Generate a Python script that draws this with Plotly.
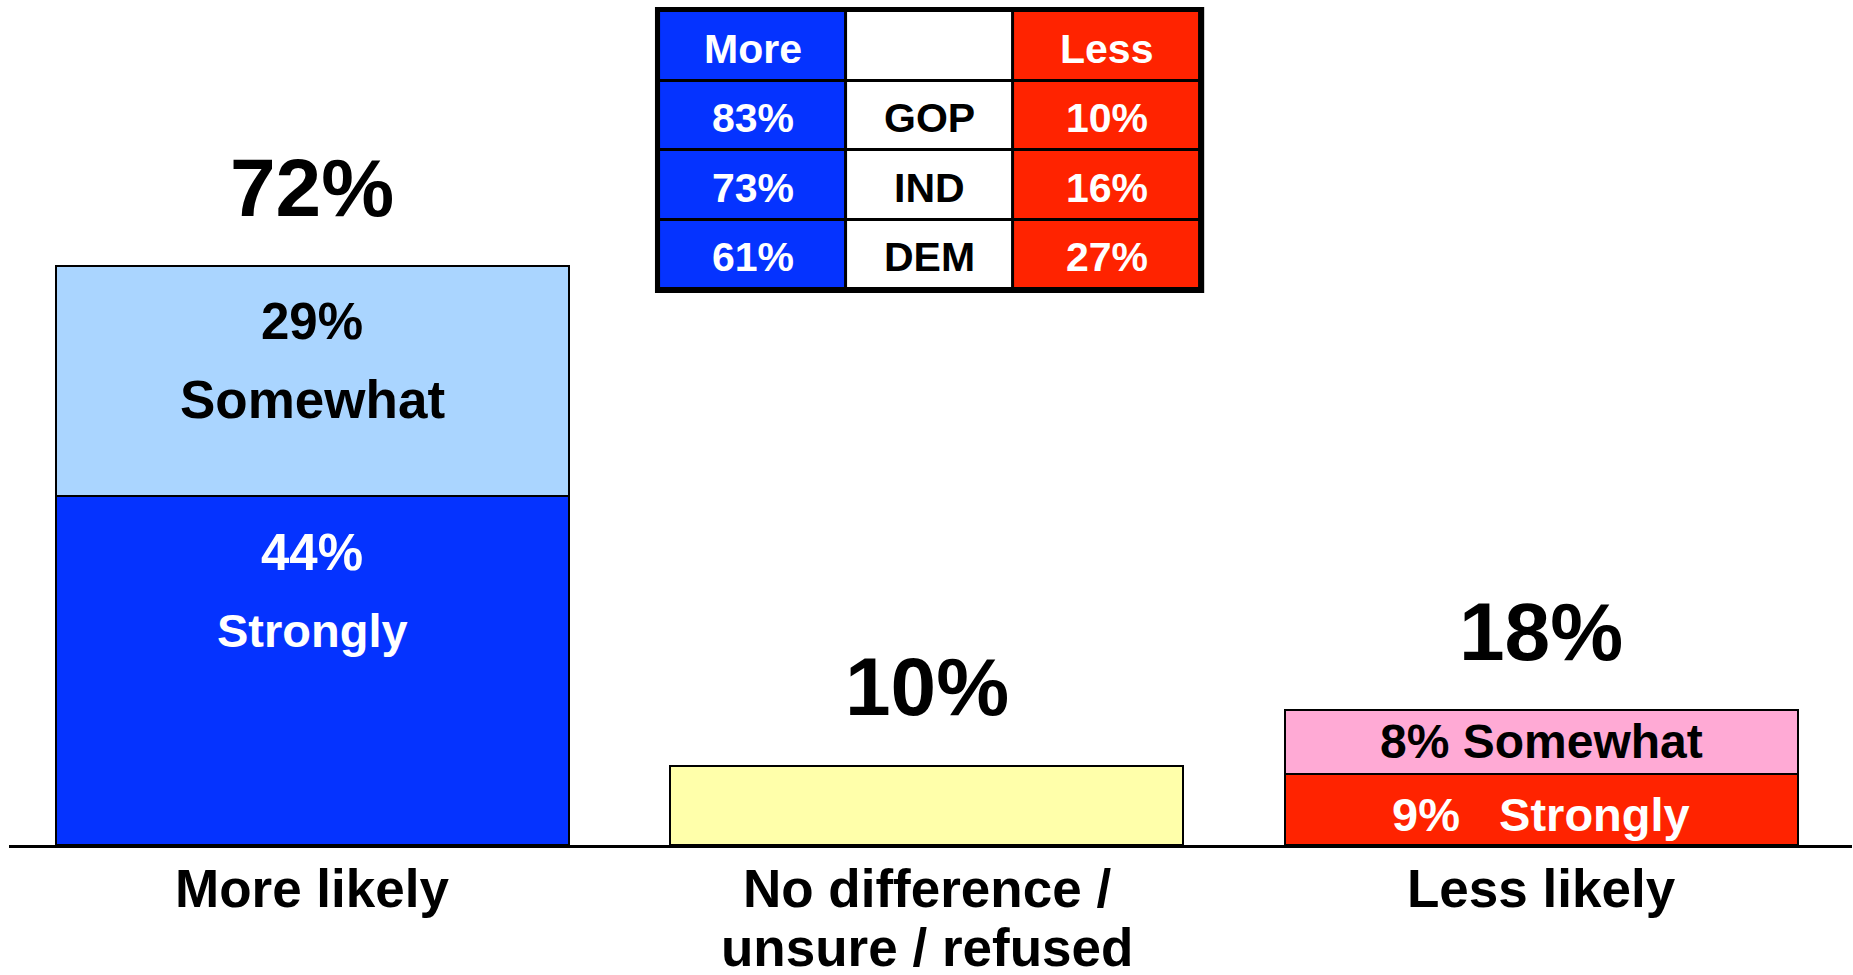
import numpy as np
import plotly.graph_objects as go

# ---------------- data ----------------
categories = ["More likely", "No difference /<br>unsure / refused", "Less likely"]
strongly = [44, None, 9]
somewhat = [29, None, 8]
neutral = [None, 10, None]
total_labels = ["72%", "10%", "18%"]

table_header = ["More", "", "Less"]
parties = ["GOP", "IND", "DEM"]
more_by_party = [83, 73, 61]
less_by_party = [10, 16, 27]

# ---------------- styles ----------------
BLUE = "#0533ff"
LBLUE = "#aad5ff"
YELLOW = "#ffffaa"
PINK = "#ffaad5"
RED = "#ff2300"
FONT = "Liberation Sans, Arial, sans-serif"

strong_colors = [BLUE, YELLOW, RED]
some_colors = [LBLUE, YELLOW, PINK]

fig = go.Figure()
line = dict(color="black", width=2)
fig.add_trace(go.Bar(x=categories, y=strongly, marker=dict(color=strong_colors, line=line),
                     hoverinfo="skip", showlegend=False))
fig.add_trace(go.Bar(x=categories, y=neutral, marker=dict(color=YELLOW, line=line),
                     hoverinfo="skip", showlegend=False))
fig.add_trace(go.Bar(x=categories, y=somewhat, marker=dict(color=some_colors, line=line),
                     hoverinfo="skip", showlegend=False))

ann = []
def txt(x, y, s, size, color="black", yshift=0, xref="x", yref="y"):
    ann.append(dict(x=x, y=y, xref=xref, yref=yref, text=s, showarrow=False,
                    xanchor="center", yanchor="middle", yshift=yshift,
                    font=dict(family=FONT, size=size, color=color, weight="bold")))

# totals above bars
for i, c in enumerate(categories):
    top = sum(v for v in (strongly[i], somewhat[i], neutral[i]) if v is not None)
    txt(c, top, total_labels[i], 82, yshift=79)

# segment labels, "More likely"
c0 = categories[0]
txt(c0, strongly[0] + somewhat[0], f"{somewhat[0]}%", 51, yshift=-55)
txt(c0, strongly[0] + somewhat[0], "Somewhat", 53, yshift=-133)
txt(c0, strongly[0], f"{strongly[0]}%", 51, color="white", yshift=-56)
txt(c0, strongly[0], "Strongly", 47, color="white", yshift=-134)
# segment labels, "Less likely"
c2 = categories[2]
txt(c2, strongly[2] + somewhat[2] / 2, f"{somewhat[2]}% Somewhat", 48)
txt(c2, strongly[2] / 2, f"{strongly[2]}%\u00a0\u00a0\u00a0Strongly", 47, color="white", yshift=-5)

# category labels below axis
for c in categories:
    for j, ln in enumerate(c.split("<br>")):
        txt(c, 0, ln, 53, yshift=-43 - 59 * j)

# ---------------- table (heatmap) ----------------
col_widths = [187, 167, 187]
x_edges = np.concatenate([[0], np.cumsum(col_widths)])
x_centers = (x_edges[:-1] + x_edges[1:]) / 2
n_rows = 1 + len(parties)
z = [[0, 1, 2] for _ in range(n_rows)]
fig.add_trace(go.Heatmap(z=z, x=x_edges, y=list(range(n_rows)), xaxis="x2", yaxis="y2",
                         zmin=0, zmax=2, showscale=False, hoverinfo="skip",
                         colorscale=[[0, BLUE], [0.5, "white"], [1, RED]],
                         xgap=3, ygap=3))
rows = [table_header] + [[f"{m}%", p, f"{l}%"] for m, p, l in zip(more_by_party, parties, less_by_party)]
for r, row in enumerate(rows):
    for k, s in enumerate(row):
        if s:
            txt(x_centers[k], r, s, 41, color="black" if k == 1 else "white",
                xref="x2", yref="y2", yshift=-3)

shapes = [dict(type="rect", xref="x2 domain", yref="y2 domain",
               x0=-0.0075, x1=1.0075, y0=-0.0145, y1=1.0145,
               fillcolor="black", line=dict(width=0), layer="below")]

fig.update_layout(
    width=1853, height=975,
    margin=dict(l=9, r=1, t=0, b=130),
    paper_bgcolor="white", plot_bgcolor="rgba(0,0,0,0)",
    barmode="stack", bargap=0.165,
    xaxis=dict(range=[-0.494, 2.506], showline=True, linecolor="black", linewidth=2.5,
               showticklabels=False, ticks="", showgrid=False, zeroline=False, fixedrange=True),
    yaxis=dict(range=[0, 106.56], visible=False, fixedrange=True),
    xaxis2=dict(domain=[0.3527, 0.6463], range=[0, x_edges[-1]], visible=False,
                anchor="y2", fixedrange=True),
    yaxis2=dict(domain=[0.658, 0.987], range=[n_rows - 0.5, -0.5], visible=False,
                anchor="x2", fixedrange=True),
    annotations=ann, shapes=shapes,
)

fig.write_html("out.html", config={"displayModeBar": False},
               post_script="document.body.style.margin='0';")
